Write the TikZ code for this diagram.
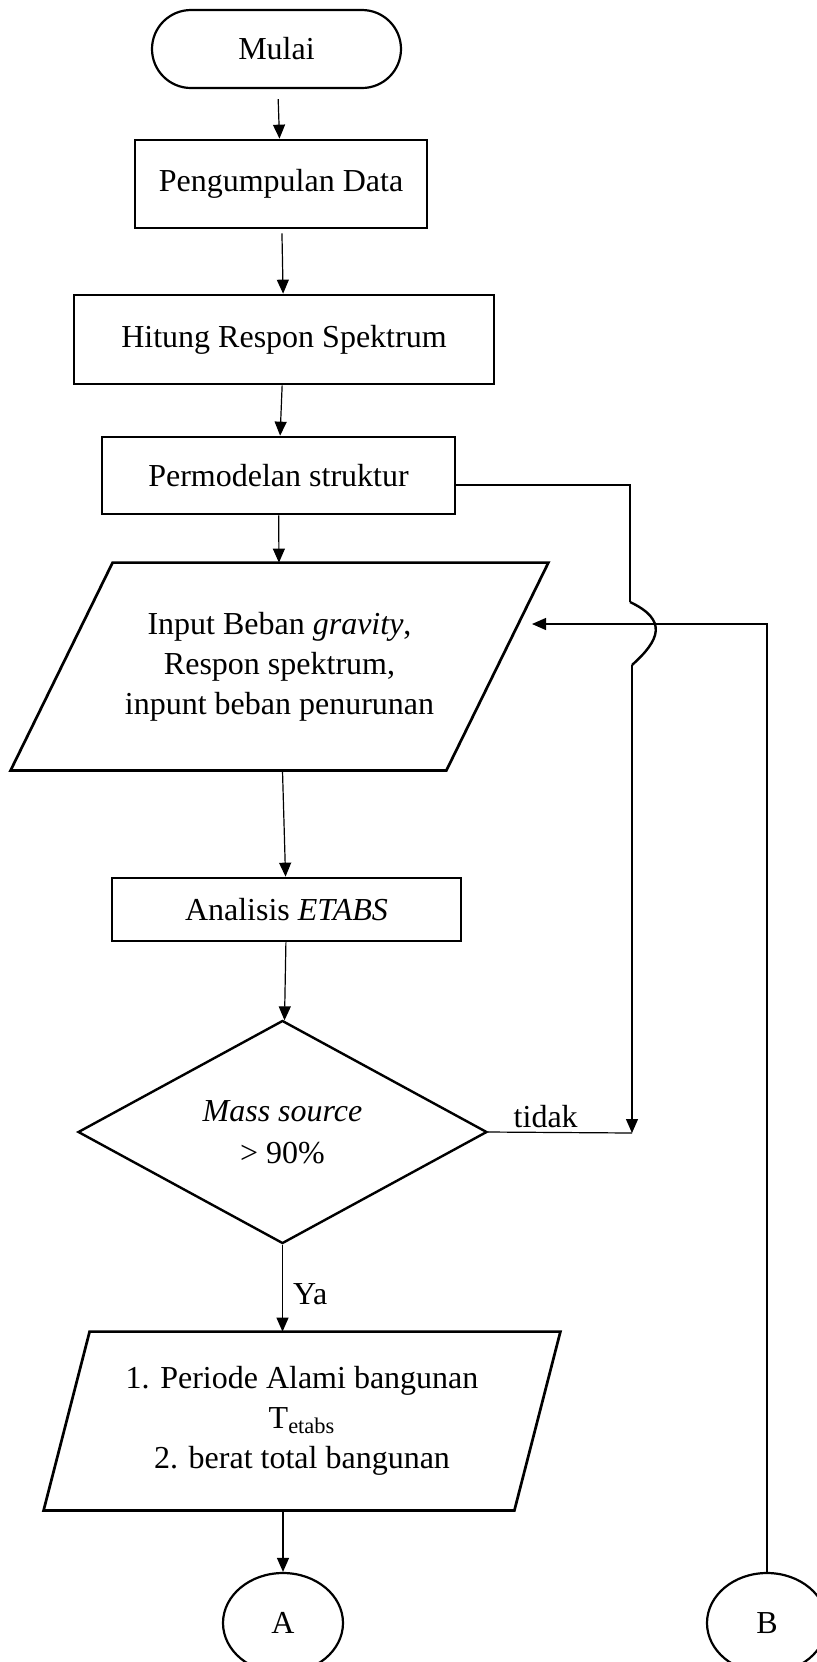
\documentclass[tikz,border=0pt]{standalone}
\usepackage{fontspec}
\setmainfont{Liberation Serif}
\usetikzlibrary{shapes.geometric,arrows.meta}

\begin{document}
\begin{tikzpicture}[
            x=0.5pt,
            y=-0.5pt,
            font=\fontsize{16}{20}\selectfont,
            every node/.style={
                draw,
                inner sep=0pt,
                align=center
            },
            terminal/.style={
                rectangle,
                rounded corners=19.5pt,
                line width=1.1pt,
                minimum width=124.5pt,
                minimum height=39pt
            },
            process/.style={
                rectangle,
                line width=1.35pt
            },
            io/.style={
                rectangle,
                draw=none
            },
            border/.style={
                line width=1.35pt,
                line join=miter
            },
            decision/.style={
                diamond,
                line width=1.2pt
            },
            connector/.style={
                ellipse,
                line width=1.1pt,
                minimum width=60pt,
                minimum height=50pt
            },
            arr/.style={
                line width=0.6pt,
                -{Triangle[length=7pt,width=6pt]}
            },
            lbl/.style={
                draw=none,
                inner sep=2pt
            }
        ]
            \useasboundingbox (0,0) rectangle (817,1662);

            \node[terminal] (mulai) at (276.5,49) {Mulai};
            \node[process, minimum width=146pt, minimum height=44pt] (data) at (281,184) {Pengumpulan Data};
            \node[process, minimum width=210pt, minimum height=44.5pt] (respon) at (284,339.5) {Hitung Respon Spektrum};
            \node[process, minimum width=176.5pt, minimum height=38.5pt] (model) at (278.5,475.5) {Permodelan struktur};
            \node[io, minimum width=217.5pt, minimum height=103.5pt] (input) at (279.5,666.5)
                {Input Beban \textit{gravity},\\Respon spektrum,\\inpunt beban penurunan};
            \node[process, minimum width=174.5pt, minimum height=31.5pt] (etabs) at (286.5,909.5) {Analisis \textit{ETABS}};
            \node[decision, minimum width=204.5pt, minimum height=103pt] (mass) at (282.5,1132)
                {\textit{Mass source}\\[1pt]> 90\%};
            \node[io, minimum width=235pt, minimum height=89pt] (hasil) at (302,1421)
                {1. Periode Alami bangunan\\T\textsubscript{etabs}\\2. berat total bangunan};
            \node[connector] (A) at (283,1623) {A};
            \node[connector] (B) at (767,1623) {B};

            % jajar genjang input / output
            \draw[border] ([xshift=25.5pt]input.north west) -- ([xshift=25.5pt]input.north east)
                -- ([xshift=-25.5pt]input.south east) -- ([xshift=-25.5pt]input.south west) -- cycle;
            \draw[border] ([xshift=11.5pt]hasil.north west) -- ([xshift=11.5pt]hasil.north east)
                -- ([xshift=-11.5pt]hasil.south east) -- ([xshift=-11.5pt]hasil.south west) -- cycle;

            \coordinate (k1) at (630,485);
            \coordinate (k2) at (630,602);
            \coordinate (k3) at (632,665);
            \coordinate (k4) at (632,1133);
            \coordinate (masuk) at (532,624);

            \draw[arr, shorten <=5pt] (mulai) -- (data);
            \draw[arr, shorten <=2pt] (data) -- (respon);
            \draw[arr] (respon) -- (model);
            \draw[arr] (model) -- (input);
            \draw[arr] (input) -- (etabs);
            \draw[arr] (etabs) -- (mass);
            \draw[arr] (mass.south) -- node[lbl, right, pos=0.57, xshift=3pt] {Ya} (mass.south |- hasil.north);
            \draw[arr] (hasil.south -| A) -- (A);

            \draw[line width=0.6pt] (model.east |- k1) -- (k1) -- (k2);
            \draw[line width=1.2pt] (k2) .. controls (668,620) and (660,640) .. (k3);
            \draw[arr] (k3) -- (k4);
            \draw[line width=0.6pt] (mass.east) -- node[lbl, above, pos=0.4] {tidak} (k4);
            \draw[arr] (B) |- (masuk);
        \end{tikzpicture}
\end{document}
